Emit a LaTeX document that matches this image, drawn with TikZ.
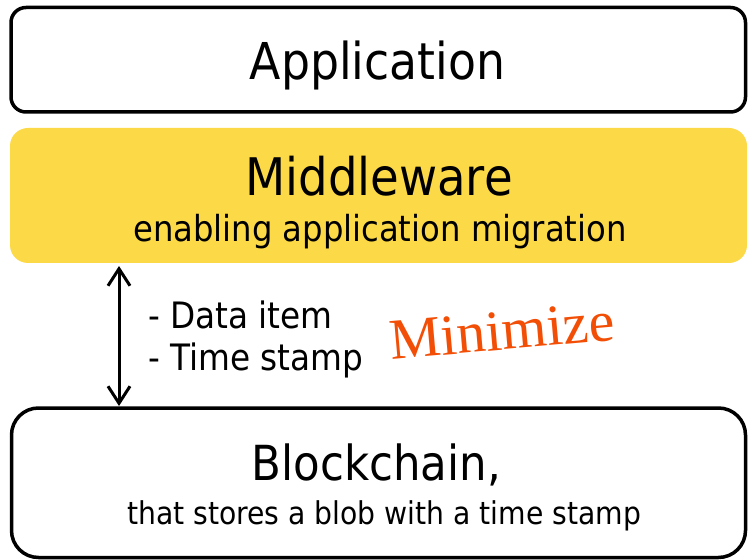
\documentclass[tikz,border=0pt]{standalone}
\usepackage{fontspec}
\setmainfont{DejaVu Sans Condensed}
\newfontfamily\stampfont{Liberation Serif}
\usetikzlibrary{arrows.meta}
\definecolor{midyellow}{HTML}{FCD947}
\definecolor{stamporange}{HTML}{F24E06}
\newcommand\fs[1]{\fontsize{#1}{#1}\selectfont}
\tikzset{
  layerbox/.style={draw=black, line width=3.5bp, fill=white},
  title/.style={anchor=base, inner sep=0pt},
  note/.style={font=\fs{36.5}, anchor=base west, inner sep=0pt},
  barb/.tip={Straight Barb[length=17bp, width=22bp, line width=3bp]},
}
\begin{document}
\begin{tikzpicture}[x=1bp, y=-1bp]
  \useasboundingbox (0,0) rectangle (748,560);
  % layers
  \draw[layerbox, rounded corners=15bp] (11,7.5) rectangle (745.5,112);
  \fill[midyellow, rounded corners=18bp] (10,128) rectangle (747,263);
  \draw[layerbox, rounded corners=27bp] (11.5,408) rectangle (745.5,557.5);
  % labels
  \node[title, font=\fs{51}] (app) at (377.5,80) {Application};
  \node[title, font=\fs{52}] (mw) at (379,196) {Middleware};
  \node[title, font=\fs{36}] (mwsub) at (380,242) {enabling application migration};
  \node[title, font=\fs{48.5}] (bc) at (376.5,480) {Blockchain,};
  \node[title, font=\fs{31.5}] (bcsub) at (384,524) {that stores a blob with a time stamp};
  % exchanged data
  \coordinate (top) at (119,266);
  \coordinate (bot) at (119,406);
  \draw[line width=3bp, {barb}-{barb}] (top) -- (bot);
  \node[note] (d1) at (148,328) {- Data item};
  \node[note] (d2) at (148,370) {- Time stamp};
  \node[font=\stampfont\fs{58}, text=stamporange, rotate=5, inner sep=0pt] (min) at (502,331) {Minimize};
\end{tikzpicture}
\end{document}
